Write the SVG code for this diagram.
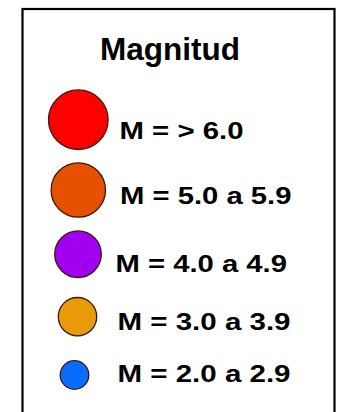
<svg xmlns="http://www.w3.org/2000/svg" width="353" height="412" viewBox="0 0 353 412">
<style>
.t{font-family:"Liberation Sans",Arial,sans-serif;font-weight:bold;fill:#000}
.lb{font-size:24.5px}
.c{stroke:#3a1a10;stroke-width:1.3}
</style>
<rect x="0" y="0" width="353" height="412" fill="#fff"/>
<rect x="22.5" y="9" width="312" height="420" fill="#fff" stroke="#000" stroke-width="2.2"/>
<g id="title"><text class="t" x="100" y="59.5" font-size="32" textLength="140" lengthAdjust="spacingAndGlyphs">Magnitud</text></g>
<g id="m6">
<circle class="c" cx="78.3" cy="119.7" r="29.8" fill="#ff0000"/>
<text class="t lb" x="119.5" y="138.5" textLength="124" lengthAdjust="spacingAndGlyphs">M = &gt; 6.0</text>
</g>
<g id="m5">
<circle class="c" cx="78.3" cy="190" r="27.2" fill="#e65100"/>
<text class="t lb" x="120" y="203.5" textLength="171.5" lengthAdjust="spacingAndGlyphs">M = 5.0 a 5.9</text>
</g>
<g id="m4">
<circle class="c" cx="78" cy="254.2" r="23.3" fill="#a100f0"/>
<text class="t lb" x="115.5" y="271.5" textLength="171.5" lengthAdjust="spacingAndGlyphs">M = 4.0 a 4.9</text>
</g>
<g id="m3">
<circle class="c" cx="77.5" cy="316.7" r="19.2" fill="#e89a08"/>
<text class="t lb" x="117.5" y="330" textLength="173" lengthAdjust="spacingAndGlyphs">M = 3.0 a 3.9</text>
</g>
<g id="m2">
<circle class="c" cx="74.5" cy="375" r="14.3" fill="#0a6cff" stroke="#1a3a70"/>
<text class="t lb" x="117.5" y="381.5" textLength="173" lengthAdjust="spacingAndGlyphs">M = 2.0 a 2.9</text>
</g>
</svg>
